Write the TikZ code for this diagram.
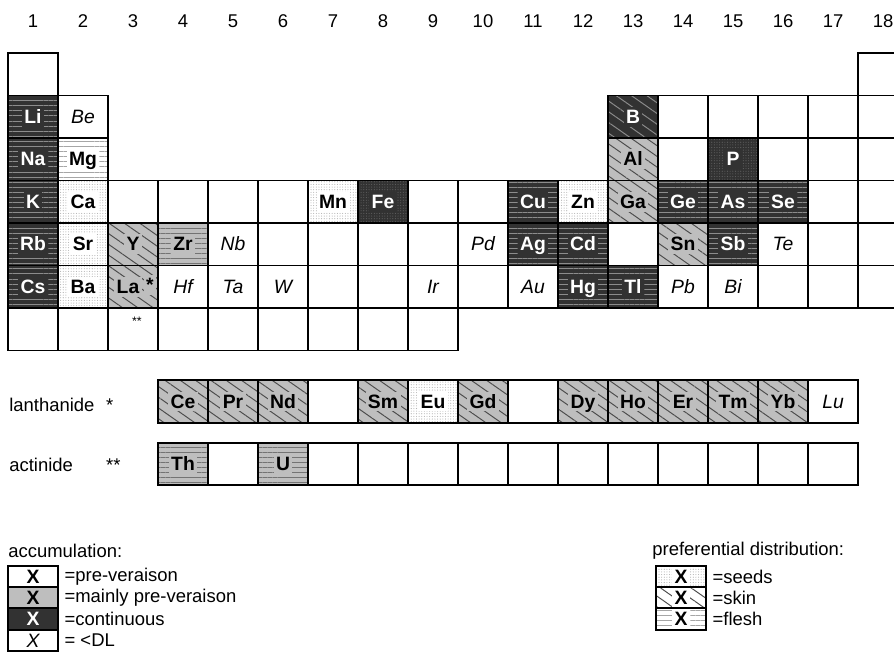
\documentclass[tikz,border=0pt]{standalone}
\usepackage{fontspec}
\setmainfont{Liberation Sans}
\usetikzlibrary{patterns.meta}
\definecolor{cdark}{RGB}{50,50,50}
\definecolor{clight}{RGB}{190,190,190}

\begin{document}
\begin{tikzpicture}[x=1cm,y=1cm,font=\fontsize{10.5}{12.6}\selectfont,
  cell/.style={draw=black,line width=1.1pt,minimum width=1cm,minimum height=0.85cm,inner sep=0pt,
    text height=8pt,text depth=0.5pt,font=\fontsize{11}{13}\selectfont\bfseries},
  cont/.style={preaction={fill=cdark},text=white},
  mainly/.style={preaction={fill=clight}},
  dl/.style={cell,font=\fontsize{11}{13}\selectfont\itshape},
  flesh/.style={pattern={Lines[angle=0,distance=2.9pt,line width=0.5pt]},pattern color=#1},
  skin/.style={pattern={Lines[angle=-35,distance=5pt,line width=0.55pt]},pattern color=#1},
  seeds/.style={pattern={Dots[distance=1.5pt,radius=0.32pt]},pattern color=#1},
  sym/.style={font=\fontsize{11}{13}\selectfont\bfseries,inner sep=1.4pt,text height=8pt,text depth=0.5pt,fill=#1},
  dsym/.style={sym=cdark,text=white},
  lsym/.style={sym=clight},
  wsym/.style={sym=white},
  dflesh/.style={cell,cont,flesh=black!45,label={[dsym]center:#1}},
  dseeds/.style={cell,cont,seeds=black!62,label={[dsym]center:#1}},
  dskin/.style={cell,cont,skin=black!45,label={[dsym]center:#1}},
  wflesh/.style={cell,flesh=black!35,label={[wsym]center:#1}},
  wseeds/.style={cell,seeds=black!30,label={[wsym]center:#1}},
  lskin/.style={cell,mainly,skin=black!70,label={[lsym]center:#1}},
  lflesh/.style={cell,mainly,flesh=black!55,label={[lsym]center:#1}},
  legbox/.style={minimum height=0.426cm},
  legtxt/.style={anchor=west,inner sep=1pt},
  colnum/.style={inner sep=1pt}]
\useasboundingbox (0,0) rectangle (17.88,-13.02);

% group numbers
\foreach \c in {1,...,18}
  \node[colnum] (h\c) at (\c-0.34,-0.42) {\c};

% main table, cell (col,-row)
\begin{scope}[shift={(-0.34cm,-0.635cm)},y=0.85cm]
\foreach \c/\r in {1/1,18/1,14/2,15/2,16/2,17/2,18/2,14/3,16/3,17/3,18/3,
  3/4,4/4,5/4,6/4,9/4,10/4,17/4,18/4,6/5,7/5,8/5,9/5,13/5,17/5,18/5,
  7/6,8/6,10/6,16/6,17/6,18/6,1/7,2/7,4/7,5/7,6/7,7/7,8/7,9/7}
  \node[cell] (e-\c-\r) at (\c,-\r) {};
\node[cell,label={[font=\scriptsize,anchor=north east,xshift=-0.22cm,yshift=-0.08cm]north east:**}] (e-3-7) at (3,-7) {};

\foreach \c/\r/\s in {1/2/Li,1/3/Na,1/4/K,11/4/Cu,14/4/Ge,15/4/As,16/4/Se,
  1/5/Rb,11/5/Ag,12/5/Cd,15/5/Sb,1/6/Cs,12/6/Hg,13/6/Tl}
  \node[dflesh=\s] (\s) at (\c,-\r) {};
\foreach \c/\r/\s in {15/3/P,8/4/Fe}
  \node[dseeds=\s] (\s) at (\c,-\r) {};
\node[dskin=B] (B) at (13,-2) {};
\node[wflesh=Mg] (Mg) at (2,-3) {};
\foreach \c/\r/\s in {2/4/Ca,7/4/Mn,12/4/Zn,2/5/Sr,2/6/Ba}
  \node[wseeds=\s] (\s) at (\c,-\r) {};
\foreach \c/\r/\s in {13/3/Al,13/4/Ga,3/5/Y,14/5/Sn}
  \node[lskin=\s] (\s) at (\c,-\r) {};
\node[lflesh=Zr] (Zr) at (4,-5) {};
\node[cell,mainly,skin=black!70,label={[lsym,xshift=-0.1cm]center:La},
  label={[lsym,anchor=east,xshift=-1.5pt,yshift=1pt]east:*}] (La) at (3,-6) {};
\foreach \c/\r/\s in {2/2/Be,5/5/Nb,10/5/Pd,16/5/Te,4/6/Hf,5/6/Ta,6/6/W,
  9/6/Ir,11/6/Au,14/6/Pb,15/6/Bi}
  \node[dl] (\s) at (\c,-\r) {\s};

% lanthanides and actinides
\foreach \c/\s in {4/Ce,5/Pr,6/Nd,8/Sm,10/Gd,12/Dy,13/Ho,14/Er,15/Tm,16/Yb}
  \node[lskin=\s] (\s) at (\c,-8.7) {};
\node[wseeds=Eu] (Eu) at (9,-8.7) {};
\node[dl] (Lu) at (17,-8.7) {Lu};
\foreach \c in {7,11}
  \node[cell] (l-\c) at (\c,-8.7) {};
\node[lflesh=Th] (Th) at (4,-10.17) {};
\node[lflesh=U] (U) at (6,-10.17) {};
\foreach \c in {5,7,8,...,17}
  \node[cell] (a-\c) at (\c,-10.17) {};
\end{scope}

\node[anchor=west,inner sep=0pt] (lanth) at (0.18,-8.1) {lanthanide};
\node[anchor=base west,inner sep=0pt] (lstar) at ([xshift=0.22cm]lanth.base east) {*};
\node[anchor=west,inner sep=0pt] (actin) at (0.18,-9.3) {actinide};
\node[anchor=base west,inner sep=0pt] (astar) at (lstar.base west |- actin.base) {**};

% legend: accumulation
\node[anchor=west,inner sep=0pt] (acc) at (0.16,-11.02) {accumulation:};
\node[cell,legbox] (kpre) at (0.66,-11.53) {X};
\node[cell,mainly,legbox] (kmain) at (0.66,-11.956) {X};
\node[cell,cont,legbox] (kcont) at (0.66,-12.382) {X};
\node[dl,legbox] (kdl) at (0.66,-12.808) {X};
\node[legtxt] (tpre) at ([xshift=2pt]kpre.east) {=pre-veraison};
\node[legtxt] (tmain) at ([xshift=2pt]kmain.east) {=mainly pre-veraison};
\node[legtxt] (tcont) at ([xshift=2pt]kcont.east) {=continuous};
\node[legtxt] (tdl) at ([xshift=2pt]kdl.east) {= <DL};

% legend: preferential distribution
\node[anchor=west,inner sep=0pt] (pref) at (13.04,-11.02) {preferential distribution:};
\node[wseeds=X,legbox] (kseeds) at (13.62,-11.53) {};
\node[cell,skin=black!70,label={[wsym]center:X},legbox] (kskin) at (13.62,-11.956) {};
\node[wflesh=X,legbox] (kflesh) at (13.62,-12.382) {};
\node[legtxt] (tseeds) at ([xshift=2pt]kseeds.east) {=seeds};
\node[legtxt] (tskin) at ([xshift=2pt]kskin.east) {=skin};
\node[legtxt] (tflesh) at ([xshift=2pt]kflesh.east) {=flesh};
\end{tikzpicture}
\end{document}
